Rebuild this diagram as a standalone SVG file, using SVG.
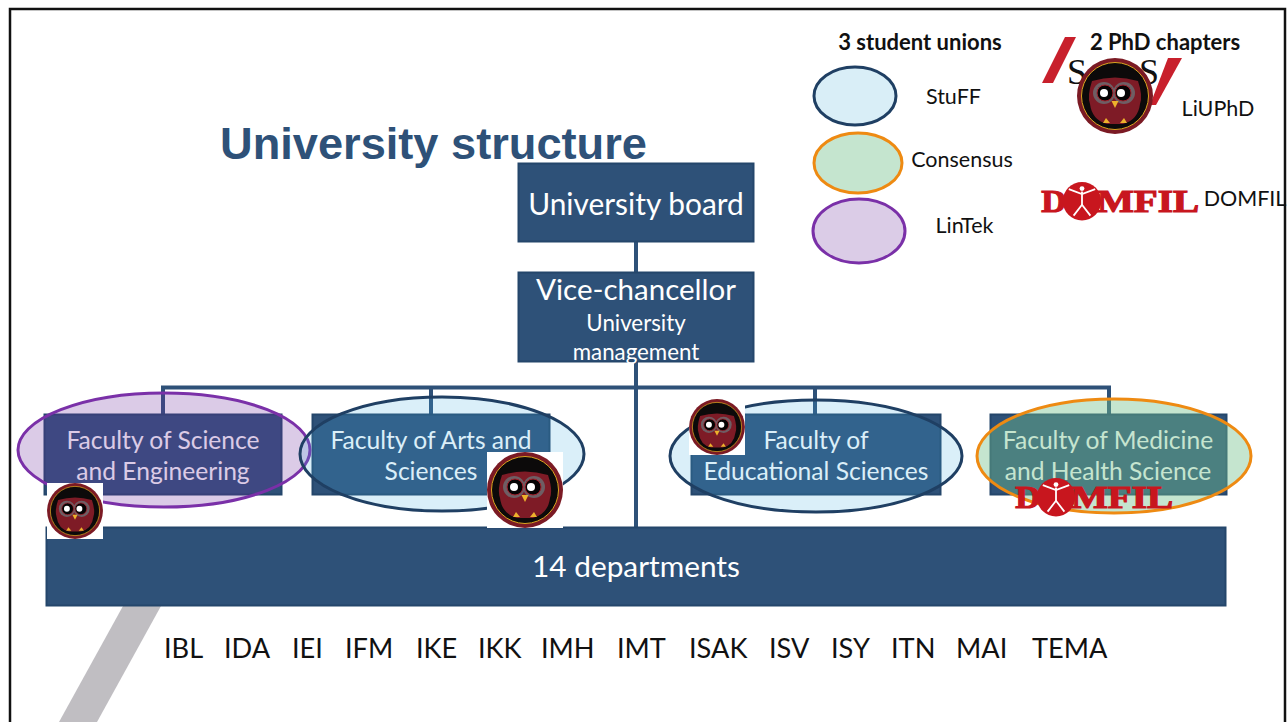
<svg xmlns="http://www.w3.org/2000/svg" width="1287" height="722" viewBox="0 0 1287 722">
<style>
text{font-family:"Lato","Carlito","Noto Sans",sans-serif;}
.box{fill:#2E5178;stroke:#24466B;stroke-width:2}
.w{fill:#fff;text-anchor:middle}
.k{fill:#111;text-anchor:middle;font-size:21.5px}
.d{fill:#111;font-size:27.2px}
.h{fill:#111;font-size:22px;font-weight:700;text-anchor:middle}
.f{font-size:24.6px}
.link{fill:none;stroke:#2E5178;stroke-width:4}
.blue{fill:#46B0E0;fill-opacity:.2;stroke:#1F3F63;stroke-width:3}
.green{fill:#75C18C;fill-opacity:.42;stroke:#EE8A12;stroke-width:3}
.purple{fill:#7030A0;fill-opacity:.25;stroke:#7A30A8;stroke-width:3}
.logo{font-family:"Liberation Serif",serif;font-size:27px;font-weight:700;fill:#C8161E;stroke:#C8161E;stroke-width:1}
</style>
<defs>
<g id="owl">
<circle r="38" fill="#7B1A24"/>
<circle r="33.500" fill="#0C0A0A" stroke="#D9A520" stroke-width="1"/>
<path d="M-23-15Q0-22 23-15Q28 0 25 8Q23 24 8 28H-8Q-23 24-25 8Q-28 0-23-15Z" fill="#7E1B26"/>
<circle cx="-11" cy="-3" r="11" fill="#6E5E64"/><circle cx="9" cy="-3" r="11" fill="#6E5E64"/>
<circle cx="-10" cy="-3" r="8" fill="#050304" stroke="#A3202C" stroke-width="1"/><circle cx="8" cy="-3" r="8" fill="#050304" stroke="#A3202C" stroke-width="1"/>
<circle cx="-11" cy="-3" r="4" fill="#fff"/><circle cx="6" cy="-3" r="4" fill="#fff"/>
<path d="M-3.500 5H3.500L0 12Z" fill="#EDB22C"/>
<path d="M-12 27L-9 22L-5 27Z" fill="#EDB22C"/><path d="M5 27L9 22L12 27Z" fill="#EDB22C"/>
</g>
<g id="domfil">
<circle cx="35" cy="16" r="16" fill="#C8161E"/>
<g stroke="#fff" fill="none" stroke-width="1.500"><path d="M35 8V19M24 6L35 10L46 6M35 19L28 28M35 19L42 28"/></g>
<circle cx="35" cy="5.500" r="2" fill="#fff"/>
<text class="logo" x="1" y="25" textLength="21" lengthAdjust="spacingAndGlyphs">D</text>
<text class="logo" x="47.500" y="25" textLength="85" lengthAdjust="spacingAndGlyphs">MFIL</text>
</g>
</defs>
<rect width="1287" height="722" fill="#fff"/>
<path d="M10 722V9H1285V722" fill="none" stroke="#111" stroke-width="2.500"/>
<path d="M123 606H161L97 722H59Z" fill="#C0BEC2"/>
<text x="220" y="159" font-size="45.200" font-weight="700" fill="#2E5178" style="font-family:'Liberation Sans',Arial,sans-serif">University structure</text>
<g id="connectors">
<path class="link" d="M636 242V272M636 362V527M163 414V387.500H1109V414M431 387.500V414M815 387.500V414"/>
</g>
<g id="university-board"><rect class="box" x="518.500" y="163.500" width="235" height="78"/><text class="w" x="636" y="215" font-size="29.900">University board</text></g>
<g id="vice-chancellor"><rect class="box" x="518.500" y="272.500" width="235" height="89"/><text class="w" x="636" y="300" font-size="29.500">Vice-chancellor</text><text class="w" x="636" y="331" font-size="22.300">University</text><text class="w" x="636" y="360" font-size="22.300">management</text></g>
<g id="faculty-science"><rect class="box" x="44.500" y="414.500" width="237" height="80"/><text class="w f" x="163" y="449">Faculty of Science</text><text class="w f" x="163" y="480">and Engineering</text></g>
<g id="faculty-arts"><rect class="box" x="312.500" y="414.500" width="237" height="80"/><text class="w f" x="431" y="449">Faculty of Arts and</text><text class="w f" x="431" y="480">Sciences</text></g>
<g id="faculty-education"><rect class="box" x="691.500" y="414.500" width="249" height="80"/><text class="w f" x="816" y="449">Faculty of</text><text class="w f" x="816" y="480">Educational Sciences</text></g>
<g id="faculty-medicine"><rect class="box" x="990.500" y="414.500" width="236" height="80"/><text class="w f" x="1108" y="449">Faculty of Medicine</text><text class="w f" x="1108" y="480">and Health Science</text></g>
<g id="departments"><rect class="box" x="46.500" y="527.500" width="1179" height="78"/><text class="w" x="636" y="577" font-size="29.800">14 departments</text></g>
<g id="union-ellipses">
<ellipse class="purple" cx="164" cy="450" rx="146" ry="57"/>
<ellipse class="blue" cx="442" cy="454" rx="142" ry="57"/>
<ellipse class="blue" cx="816" cy="456" rx="146" ry="56"/>
<ellipse class="green" cx="1114" cy="456" rx="137" ry="57"/>
</g>
<g id="owl-science"><rect x="47" y="483" width="56" height="56" fill="#fff"/><use href="#owl" transform="translate(75 511) scale(.735)"/></g>
<g id="owl-arts"><rect x="487" y="452" width="76" height="76" fill="#fff"/><use href="#owl" transform="translate(525 490)"/></g>
<g id="owl-education"><rect x="689" y="399" width="56" height="56" fill="#fff"/><use href="#owl" transform="translate(717 427) scale(.735)"/></g>
<g id="domfil-medicine"><use href="#domfil" transform="translate(1014 478) scale(1.200)"/></g>
<g id="legend-stuff"><ellipse cx="855" cy="96" rx="41" ry="29" fill="#D9EEF7" stroke="#1F3F63" stroke-width="3"/><text class="k" x="953.500" y="104">StuFF</text></g>
<g id="legend-consensus"><ellipse cx="858" cy="163" rx="44" ry="30" fill="#C5E5CF" stroke="#EE8A12" stroke-width="3"/><text class="k" x="962" y="167">Consensus</text></g>
<g id="legend-lintek"><ellipse cx="859" cy="231" rx="46" ry="32" fill="#DBCCE7" stroke="#7A30A8" stroke-width="3"/><text class="k" x="964.500" y="233">LinTek</text></g>
<text class="h" x="920" y="50">3 student unions</text>
<g id="legend-liuphd">
<path d="M1065 37H1076L1053 83H1042Z" fill="#C8202C"/>
<path d="M1168 58H1182L1156 105H1150Z" fill="#C8202C"/>
<rect x="1068" y="58" width="90" height="26" fill="#fff"/>
<text x="1067" y="84" font-size="36" fill="#111" style="font-family:'Liberation Serif',serif" textLength="92">SFS</text>
<use href="#owl" transform="translate(1115 96)"/>
<text class="k" x="1218" y="116">LiUPhD</text>
</g>
<text class="h" x="1165" y="50">2 PhD chapters</text>
<g id="legend-domfil"><use href="#domfil" transform="translate(1040 182)scale(1.200)"/><text class="k" x="1245" y="206">DOMFIL</text></g>
<g id="department-list">
<text class="d" x="164" y="658">IBL</text><text class="d" x="224" y="658">IDA</text><text class="d" x="292" y="658">IEI</text><text class="d" x="345" y="658">IFM</text><text class="d" x="416" y="658">IKE</text><text class="d" x="478" y="658">IKK</text><text class="d" x="541" y="658">IMH</text><text class="d" x="617" y="658">IMT</text><text class="d" x="689" y="658">ISAK</text><text class="d" x="769" y="658">ISV</text><text class="d" x="831" y="658">ISY</text><text class="d" x="891" y="658">ITN</text><text class="d" x="956" y="658">MAI</text><text class="d" x="1032" y="658">TEMA</text>
</g>
</svg>
